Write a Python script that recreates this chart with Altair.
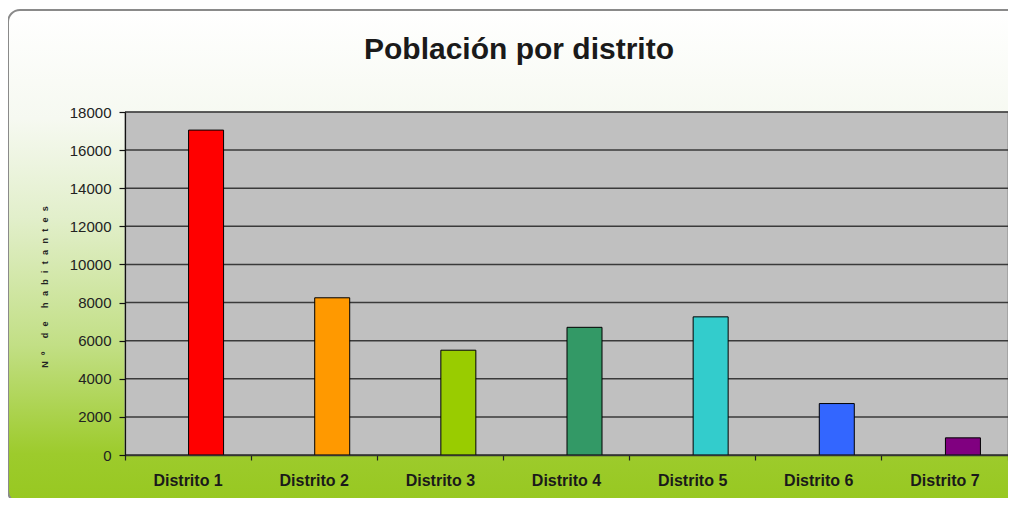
import altair as alt
import pandas as pd

# ---- data ----
distritos = ["Distrito 1", "Distrito 2", "Distrito 3", "Distrito 4",
             "Distrito 5", "Distrito 6", "Distrito 7"]
habitantes = [17050, 8250, 5500, 6700, 7250, 2700, 900]
colores = ["#FF0000", "#FF9900", "#99CC00", "#339966", "#33CCCC", "#3366FF", "#800080"]
y_ticks = [0, 2000, 4000, 6000, 8000, 10000, 12000, 14000, 16000, 18000]
titulo = "Población por distrito"
_g = "\u2002\u2009"
_w = "\u2003\u2002"
y_titulo = _g.join("Nº") + _w + _g.join("de") + _w + _g.join("habitantes")

W, H = 883, 343
PAD_L, PAD_T = 117, 104
FONT = "Liberation Sans"

df = pd.DataFrame({"Distrito": distritos, "Habitantes": habitantes})
grid_df = pd.DataFrame({"Habitantes": y_ticks})

y_scale = alt.Scale(domain=[0, 18000], nice=False)
y_axis = alt.Axis(values=y_ticks, grid=False, format="d",
                  labelFont=FONT, labelFontSize=15,
                  labelColor="#222222", labelPadding=8,
                  tickSize=6, tickColor="#111111", tickWidth=1.2,
                  domainColor="#111111", domainWidth=1.2,
                  title=y_titulo,
                  titleFont=FONT, titleFontSize=9, titleFontWeight="bold",
                  titleColor="#222222", titleAngle=270,
                  titleX=-81, titleY=H / 2 + 3, titleAlign="center",
                  titleBaseline="middle", zindex=1)

gradient = alt.LinearGradient(
    gradient="linear", x1=0, x2=0, y1=0, y2=1,
    stops=[
        alt.GradientStop(color="#FFFFFF", offset=0),
        alt.GradientStop(color="#F6F9F1", offset=0.22),
        alt.GradientStop(color="#E2EFCB", offset=0.42),
        alt.GradientStop(color="#C2DF85", offset=0.68),
        alt.GradientStop(color="#9DCB2C", offset=0.9),
        alt.GradientStop(color="#97C820", offset=1),
    ],
)

bg = alt.Chart(alt.Data(values=[{}])).mark_rect(
    fill=gradient, stroke="#8A8A8A", strokeWidth=2, cornerRadius=12
).encode(
    x=alt.value(8 - 8 - PAD_L), x2=alt.value(W + 60),
    y=alt.value(10 - 8 - PAD_T), y2=alt.value(H + 48),
)

title_mark = alt.Chart(alt.Data(values=[{}])).mark_text(
    text=titulo, font=FONT, fontSize=30, fontWeight="bold", color="#1A1A1A",
    align="center", baseline="alphabetic"
).encode(x=alt.value(519 - 8 - PAD_L), y=alt.value(59 - 8 - PAD_T))

plot_bg = alt.Chart(alt.Data(values=[{}])).mark_rect(
    fill="#C0C0C0", stroke="#8A8A8A", strokeWidth=1
).encode(
    x=alt.value(0), x2=alt.value(W), y=alt.value(0), y2=alt.value(H)
)

grid = alt.Chart(grid_df).mark_rule(color="#3A3A3A", strokeWidth=1.5).encode(
    y=alt.Y("Habitantes:Q", scale=y_scale, axis=y_axis),
    x=alt.value(0), x2=alt.value(W),
)

bars = alt.Chart(df).mark_bar(
    size=35, xOffset=18, stroke="#000000", strokeWidth=1
).encode(
    x=alt.X("Distrito:N", sort=distritos,
            scale=alt.Scale(paddingInner=0, paddingOuter=0),
            axis=alt.Axis(title=None, labelAngle=0, labelFont=FONT,
                          labelFontSize=16, labelFontWeight="bold",
                          labelColor="#1A1A1A", labelPadding=12,
                          tickSize=5, tickColor="#222222", tickWidth=1.2,
                          domainColor="#333333", domainWidth=1.5,
                          bandPosition=1, tickExtra=True, zindex=1)),
    y=alt.Y("Habitantes:Q", scale=y_scale, axis=y_axis),
    color=alt.Color("Distrito:N", scale=alt.Scale(domain=distritos, range=colores),
                    legend=None),
)

chart = alt.layer(bg, title_mark, plot_bg, grid, bars).properties(
    width=W, height=H,
    autosize=alt.AutoSizeParams(type="none"),
    padding={"left": PAD_L, "top": PAD_T, "right": 0, "bottom": 43},
).configure_view(strokeOpacity=0)

chart.save("out.html", embed_options={"renderer": "svg", "actions": False})
